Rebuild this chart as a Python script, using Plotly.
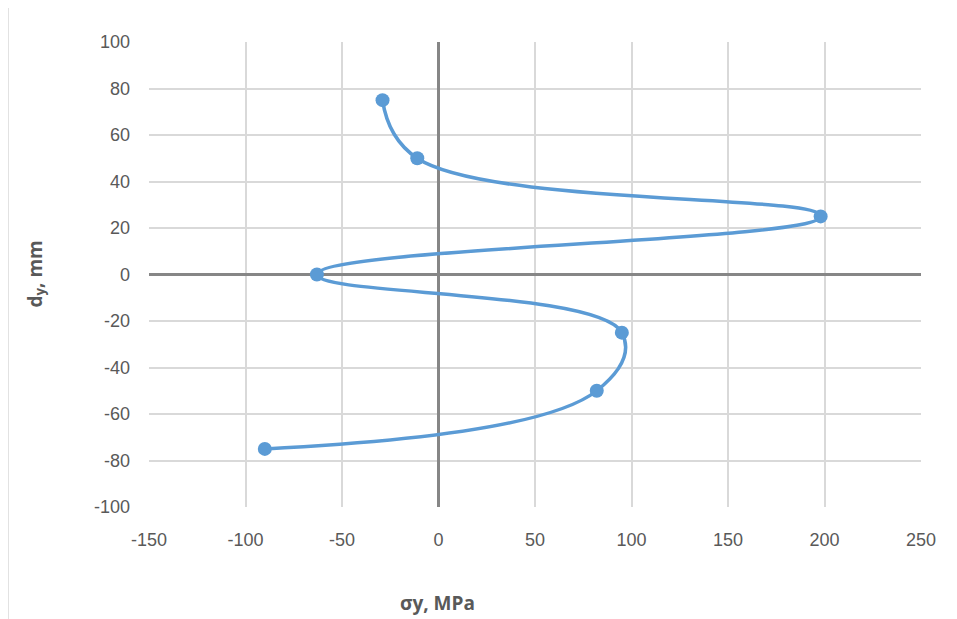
import plotly.graph_objects as go

# stress vs depth
sigma_y = [-29, -11, 198, -63, 95, 82, -90]
d_y = [75, 50, 25, 0, -25, -50, -75]

x_ticks = [-150, -100, -50, 0, 50, 100, 150, 200, 250]
y_ticks = [-100, -80, -60, -40, -20, 0, 20, 40, 60, 80, 100]

fig = go.Figure()
fig.add_trace(go.Scatter(
    x=sigma_y, y=d_y, mode='lines+markers',
    line=dict(color='#5b9bd5', width=3.5, shape='spline', smoothing=1.2),
    marker=dict(color='#5b9bd5', size=14),
    showlegend=False,
))

tick_font = dict(family="Liberation Sans Narrow, Liberation Sans, Arial", size=18, color='#595959')
title_font = dict(family='Open Sans, Liberation Sans', size=19, color='#595959')

# hyphen minus like Excel, not the unicode minus plotly uses
fig.update_xaxes(range=[-150, 250], tickvals=x_ticks, ticktext=[str(v) for v in x_ticks],
                 showgrid=True, gridcolor='#d9d9d9', gridwidth=1.5,
                 zeroline=True, zerolinecolor='#868686', zerolinewidth=3,
                 showline=False, tickfont=tick_font, ticks='', ticklabelstandoff=20)
fig.update_yaxes(range=[-100, 100], tickvals=y_ticks, ticktext=[str(v) for v in y_ticks],
                 showgrid=True, gridcolor='#d9d9d9', gridwidth=1.5,
                 zeroline=True, zerolinecolor='#868686', zerolinewidth=3,
                 showline=False, tickfont=tick_font, ticks='', ticklabelstandoff=18)

# page body has an 8px margin, so the figure is a bit smaller than the window
pw, ph = 772, 465
fig.update_layout(
    width=949, height=611,
    margin=dict(l=141, r=36, t=34, b=112),
    plot_bgcolor='white', paper_bgcolor='white',
)

fig.add_annotation(text='<b>σy, MPa</b>', xref='paper', yref='paper',
                   x=(437 - 149) / pw, y=-(603 - 507) / ph, xanchor='center', yanchor='middle',
                   showarrow=False, font=title_font)
fig.add_annotation(text='<b>d<sub>y</sub>, mm</b>', xref='paper', yref='paper',
                   x=(35 - 149) / pw, y=0.5, xanchor='center', yanchor='middle', textangle=-90,
                   showarrow=False, font=title_font)

# light border line at the left of the chart area
fig.add_shape(type='line', xref='paper', yref='paper',
              x0=-141 / pw, x1=-141 / pw, y0=-112 / ph, y1=1 + 34 / ph,
              line=dict(color='#d9d9d9', width=1.5))

fig.write_html("out.html")
